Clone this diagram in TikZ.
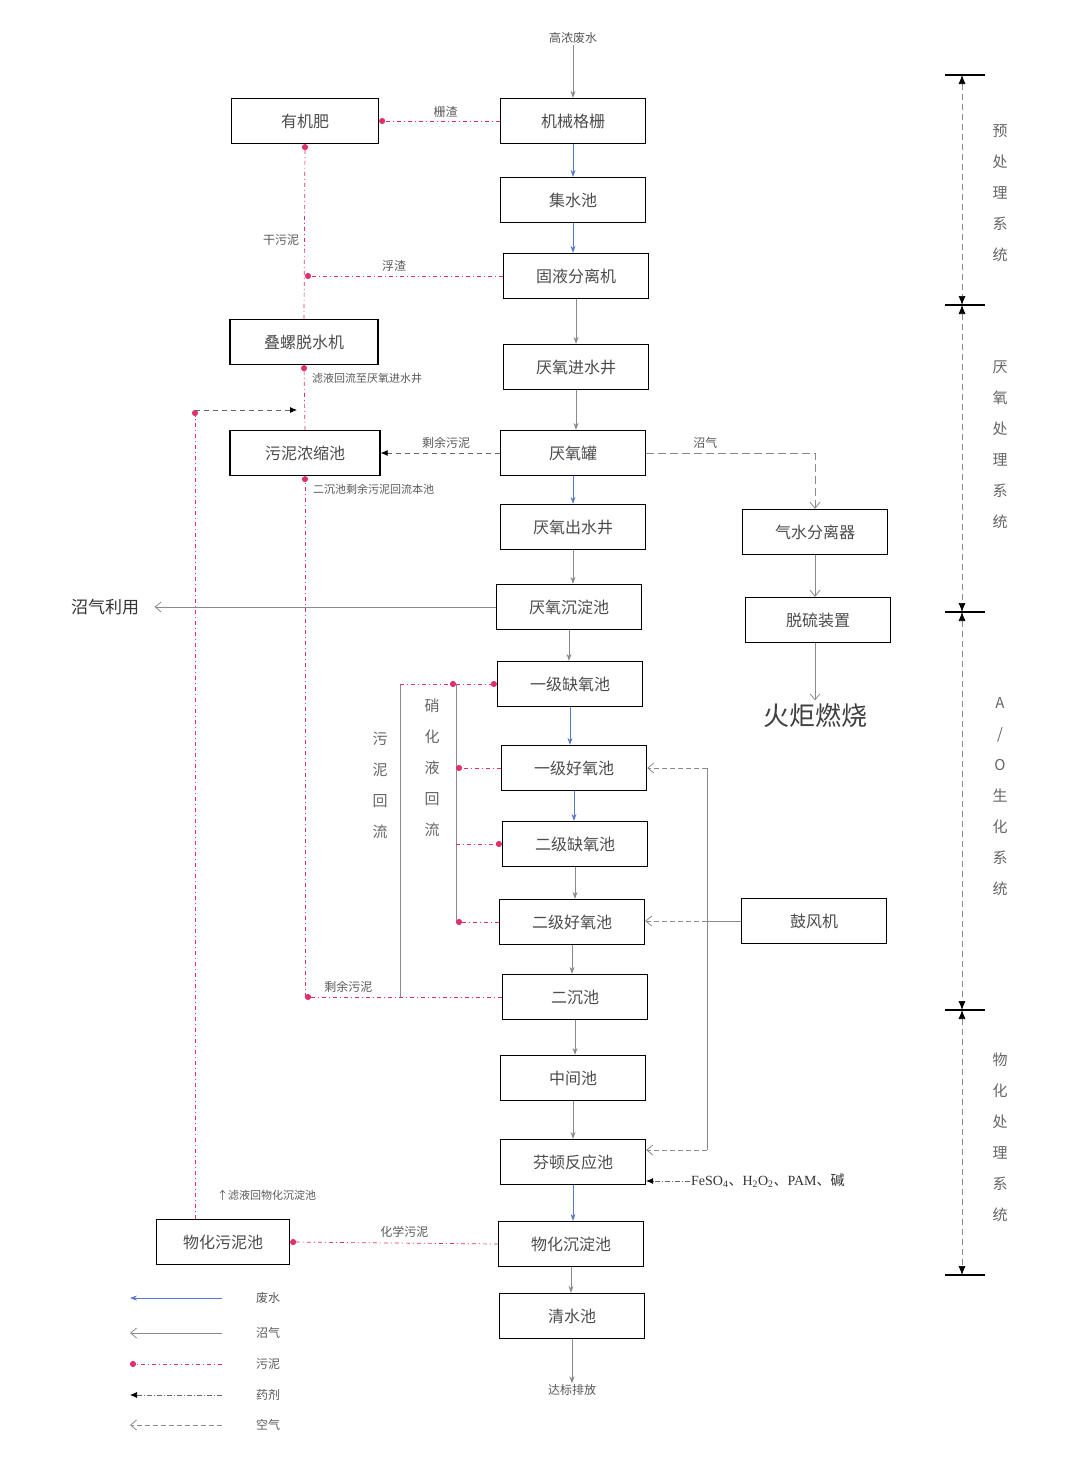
\documentclass[tikz,border=0pt]{standalone}
\usepackage{fontspec}
\setmainfont{Liberation Serif}
\newfontfamily\cjk{Noto Sans CJK SC}
\usetikzlibrary{arrows.meta,calc}
\definecolor{sred}{HTML}{E0306A}
\definecolor{fblue}{HTML}{5878C8}
\definecolor{lgray}{HTML}{8A8A8A}
\begin{document}
\begin{tikzpicture}[x=1pt,y=-1pt,
  box/.style={draw,line width=1.3pt,minimum width=145pt,minimum height=45pt,inner sep=0pt,
    font=\cjk\fontsize{16}{16}\selectfont,text=black!70},
  lbl/.style={font=\cjk\fontsize{12}{12}\selectfont,text=black!65,inner sep=1pt},
  slbl/.style={font=\cjk\fontsize{11}{11}\selectfont,text=black!65,inner sep=1pt},
  vlbl/.style={font=\cjk\fontsize{15}{31}\selectfont,text=black!60,align=center,inner sep=0pt},
  flow/.style={draw=lgray,line width=0.8pt,-{Stealth[length=7pt,width=5pt]}},
  bflow/.style={flow,draw=fblue},
  sludge/.style={draw=sred,line width=0.7pt,dash pattern=on 4pt off 3pt on 1pt off 3pt,
    -{Circle[length=6pt,fill=sred]}},
  gas/.style={draw=lgray,line width=0.8pt,-{Straight Barb[length=6pt,width=10pt]}},
  gasd/.style={gas,dash pattern=on 8pt off 4pt},
  air/.style={gas,dash pattern=on 5pt off 3pt},
  chem/.style={draw=black!60,line width=0.7pt,dash pattern=on 5pt off 2pt on 1pt off 2pt,
    -{Latex[length=7pt,width=6pt,color=black]}},
  sdash/.style={draw=black!60,line width=0.8pt,dash pattern=on 5pt off 4pt,
    -{Latex[length=7pt,width=6pt,color=black]}},
  thinl/.style={draw=lgray,line width=0.7pt},
  dimline/.style={draw=lgray,line width=0.7pt,dash pattern=on 6pt off 4pt,
    {Latex[length=9pt,width=7pt,color=black]}-{Latex[length=9pt,width=7pt,color=black]}},
]
\useasboundingbox[fill=white] (0,0) rectangle (1068,1457);

% ---------- main column ----------
\node[lbl] (in) at (573,38) {高浓废水};
\node[box] (b1) at (573,121) {机械格栅};
\node[box] (b2) at (573,200) {集水池};
\node[box] (b3) at (576,276) {固液分离机};
\node[box] (b4) at (576,367) {厌氧进水井};
\node[box] (b5) at (573,453) {厌氧罐};
\node[box] (b6) at (573,527) {厌氧出水井};
\node[box] (b7) at (569,607) {厌氧沉淀池};
\node[box] (b8) at (570,684) {一级缺氧池};
\node[box] (b9) at (574,768) {一级好氧池};
\node[box] (b10) at (575,844) {二级缺氧池};
\node[box] (b11) at (572,922) {二级好氧池};
\node[box] (b12) at (575,997) {二沉池};
\node[box] (b13) at (573,1078) {中间池};
\node[box] (b14) at (573,1162) {芬顿反应池};
\node[box] (b15) at (571,1244) {物化沉淀池};
\node[box] (b16) at (572,1316) {清水池};
\node[lbl] (out) at (572,1390) {达标排放};

% ---------- left column ----------
\node[box,minimum width=147pt] (l1) at (305,121) {有机肥};
\node[box,minimum width=148pt] (l2) at (304,342) {叠螺脱水机};
\node[box,minimum width=150pt] (l3) at (305,453) {污泥浓缩池};
\node[box,minimum width=133pt] (l4) at (223,1242) {物化污泥池};
\node[font=\cjk\fontsize{17}{17}\selectfont,text=black!80] (bgu) at (105,607) {沼气利用};

% ---------- right column ----------
\node[box] (r1) at (815,532) {气水分离器};
\node[box] (r2) at (818,620) {脱硫装置};
\node[font=\cjk\fontsize{26}{26}\selectfont,text=black!75] (torch) at (815,716) {火炬燃烧};
\node[box] (r3) at (814,921) {鼓风机};

% ---------- main flow ----------
\draw[flow] (in) -- (in |- b1.north);
\draw[bflow] (b1.south) -- (b1.south |- b2.north);
\draw[bflow] (b2.south) -- (b2.south |- b3.north);
\draw[flow] (b3.south) -- (b3.south |- b4.north);
\draw[flow] (b4.south) -- (b4.south |- b5.north);
\draw[bflow] (b5.south) -- (b5.south |- b6.north);
\draw[flow] (b6.south) -- (b6.south |- b7.north);
\draw[flow] (b7.south) -- (b7.south |- b8.north);
\draw[bflow] (b8.south) -- (b8.south |- b9.north);
\draw[bflow] (b9.south) -- (b9.south |- b10.north);
\draw[flow] (b10.south) -- (b10.south |- b11.north);
\draw[flow] (b11.south) -- (b11.south |- b12.north);
\draw[flow] (b12.south) -- (b12.south |- b13.north);
\draw[flow] (b13.south) -- (b13.south |- b14.north);
\draw[bflow] (b14.south) -- (b14.south |- b15.north);
\draw[flow] (b15.south) -- (b15.south |- b16.north);
\draw[flow] (b16.south) -- (b16.south |- out.north);

% ---------- sludge / residues ----------
\draw[sludge] (b1.west) -- node[lbl,above=2pt,pos=0.45]{栅渣} (l1.east);
\coordinate (j1) at (l1.south |- b3.west);
\draw[sludge] (b3.west) -- node[lbl,above=3pt,pos=0.55]{浮渣} (j1);
\draw[sludge] (l2.north) -- node[lbl,left=4pt,pos=0.45]{干污泥} (l1.south);
\draw[sludge] (l3.north) -- (l2.south);
\node[slbl,anchor=west] (t1) at (311,378) {滤液回流至厌氧进水井};
\draw[sdash] (b5.west) -- node[lbl,above=3pt,pos=0.45]{剩余污泥} (l3.east);
\coordinate (j2) at (l3.south |- b12.west);
\draw[sludge] (b12.west) -- node[lbl,above=3pt,pos=0.78]{剩余污泥} (j2);
\draw[sludge] (j2) -- (l3.south);
\node[slbl,anchor=west] (t2) at (312,489) {二沉池剩余污泥回流本池};

% physico-chemical sludge
\coordinate (j3) at ($(l4.north)+(-28,0)$);
\coordinate (j4) at (195,410);
\coordinate (j5) at (297,410);
\draw[sludge] (j3) -- (j4);
\draw[sdash] (j4) -- (j5);
\draw[sludge] (b15.west) -- node[lbl,above=4pt,pos=0.45]{化学污泥} (l4.east);
\node[slbl,anchor=west] (t3) at (216,1195) {↑滤液回物化沉淀池};

% ---------- returns ----------
\coordinate (p1) at (400,684);
\coordinate (p2) at (456,684);
\coordinate (p3) at (400,997);
\coordinate (p4) at (456,768);
\coordinate (p5) at (456,844);
\coordinate (p6) at (456,922);
\draw[thinl] (p1) -- (p3);
\draw[thinl] (p2) -- (p6);
\draw[sludge] (p1) -- (p2);
\draw[sludge] (p2) -- (b8.west);
\draw[sludge] (b9.west) -- (p4);
\draw[sludge] (p5) -- (b10.west);
\draw[sludge] (b11.west) -- (p6);
\node[vlbl] (v1) at (380,785) {污\\泥\\回\\流};
\node[vlbl] (v2) at (432,768) {硝\\化\\液\\回\\流};

% ---------- biogas ----------
\coordinate (g1) at (r1.north |- b5.east);
\draw[gasd] (b5.east) -- node[lbl,above=3pt,pos=0.35]{沼气} (g1) -- (r1.north);
\draw[gas] (r1.south) -- (r1.south |- r2.north);
\draw[gas] (torch.north |- r2.south) -- (torch.north);
\draw[gas] (b7.west) -- ($(bgu.east |- b7.west)+(12,0)$);

% ---------- air ----------
\coordinate (a1) at (707,768);
\coordinate (a2) at (707,921);
\coordinate (a3) at (707,1150);
\draw[thinl] (r3.west) -- (a2);
\draw[thinl] (a1) -- (a3);
\draw[air] (a1) -- (b9.east);
\draw[air] (a2) -- (b11.east |- a2);
\draw[air] (a3) -- (b14.east |- a3);

% ---------- chemicals ----------
\node[anchor=west,font=\fontsize{14}{14}\selectfont,text=black!80,inner sep=1pt] (chm) at (690,1181)
  {FeSO\textsubscript{4}{\cjk 、}H\textsubscript{2}O\textsubscript{2}{\cjk 、}PAM{\cjk 、碱}};
\draw[chem] (chm.west) -- (b14.east |- chm.west);

% ---------- right dimension bar ----------
\foreach \yy in {75,305,612,1010,1275}{
  \draw[line width=1.2pt] (945,\yy) -- (985,\yy);
}
\coordinate (d1) at (962,75);
\coordinate (d2) at (962,305);
\coordinate (d3) at (962,612);
\coordinate (d4) at (962,1010);
\coordinate (d5) at (962,1275);
\draw[dimline] (d1) -- (d2);
\draw[dimline] (d2) -- (d3);
\draw[dimline] (d3) -- (d4);
\draw[dimline] (d4) -- (d5);
\node[vlbl] (s1) at (1000,193) {预\\处\\理\\系\\统};
\node[vlbl] (s2) at (1000,445) {厌\\氧\\处\\理\\系\\统};
\node[vlbl] (s3) at (1000,797) {A\\/\\O\\生\\化\\系\\统};
\node[vlbl] (s4) at (1000,1137) {物\\化\\处\\理\\系\\统};

% ---------- legend ----------
\foreach \i/\yy in {1/1298,2/1333,3/1364,4/1395,5/1425}{
  \coordinate (la\i) at (222,\yy);
  \coordinate (lb\i) at (130,\yy);
}
\draw[bflow] (la1) -- (lb1);
\draw[gas] (la2) -- (lb2);
\draw[sludge] (la3) -- (lb3);
\draw[chem] (la4) -- (lb4);
\draw[air] (la5) -- (lb5);
\node[lbl] (lt1) at (268,1298) {废水};
\node[lbl] (lt2) at (268,1333) {沼气};
\node[lbl] (lt3) at (268,1364) {污泥};
\node[lbl] (lt4) at (268,1395) {药剂};
\node[lbl] (lt5) at (268,1425) {空气};
\end{tikzpicture}
\end{document}
